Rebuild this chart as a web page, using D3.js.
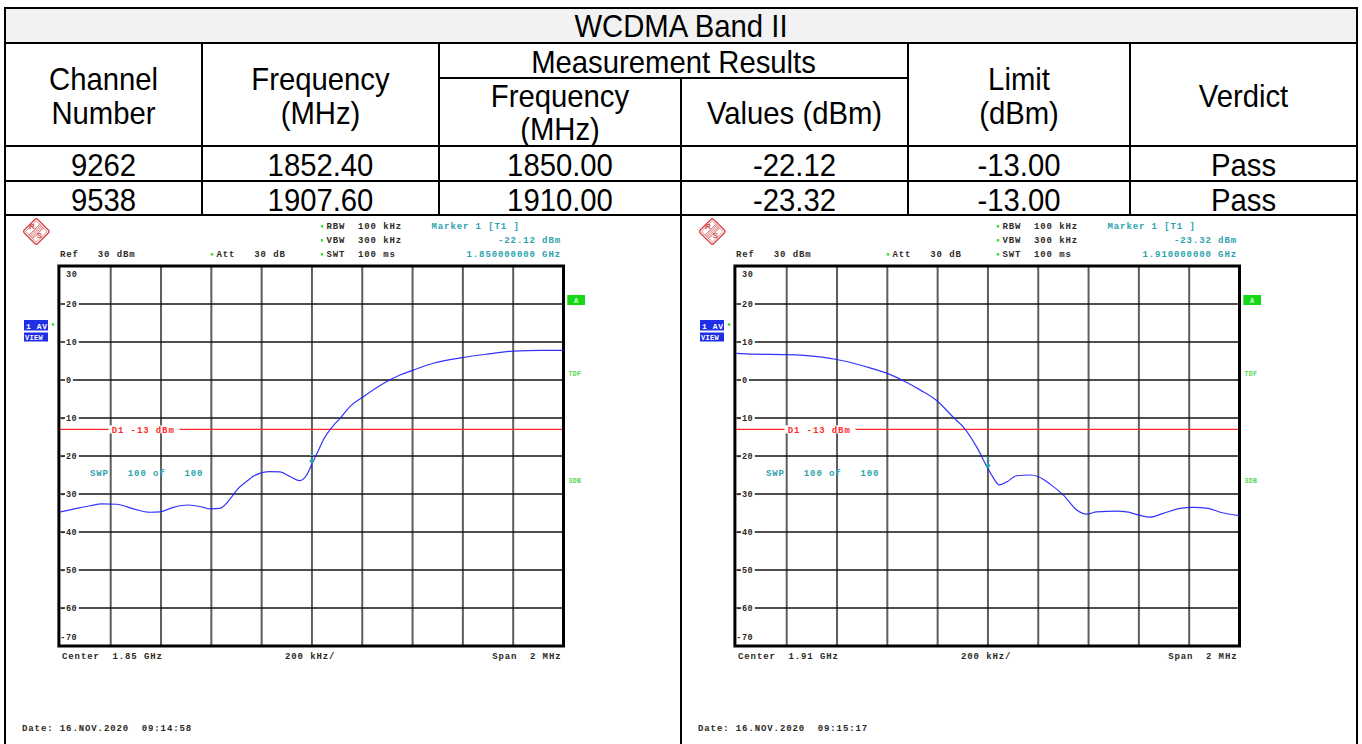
<!DOCTYPE html>
<html><head><meta charset="utf-8">
<script src="https://cdn.jsdelivr.net/npm/d3@7"></script>
<style>html,body{margin:0;padding:0;background:#fff;} svg{display:block}</style>
</head><body>
<svg id="c" width="1362" height="744"></svg>
<script>
// ---------- result table ----------
const bandTitle = "WCDMA Band II";
const channelNumbers = ["9262", "9538"];
const channelFreqMHz = ["1852.40", "1907.60"];
const markerFreqMHz = [1850.00, 1910.00];
const markerLevelDbm = [-22.12, -23.32];
const limitDbm = [-13.00, -13.00];
const verdicts = ["Pass", "Pass"];

// ---------- analyzer settings ----------
const centerGHz = [1.85, 1.91];
const sweepStamps = ["16.NOV.2020  09:14:58", "16.NOV.2020  09:15:17"];
const levelTicks = [30, 20, 10, 0, -10, -20, -30, -40, -50, -60, -70];
const freqGridKHz = [-1000, -800, -600, -400, -200, 0, 200, 400, 600, 800, 1000];
const displayLineDbm = -13;

// ---------- traces: offset from centre (kHz) and level (dBm) ----------
const lowEdgeOffsetKHz = [-1000, -949, -882, -836, -776, -710, -644, -604, -551, -492, -432, -405, -366,
  -313, -299, -246, -233, -167, -127, -87, -48, -21, 0, 32, 45, 85, 112, 151, 204, 284, 350, 403, 482,
  598, 695, 800, 907, 1000];
const lowEdgeLevelDbm = [-34.7, -34.0, -33.1, -32.6, -32.7, -33.9, -34.8, -34.7, -33.5, -32.9, -33.5, -33.9, -33.8,
  -30.2, -29.0, -26.0, -25.3, -24.1, -24.2, -25.4, -26.5, -25.0, -22.12, -17.6, -15.8, -12.0, -10.1, -7.0, -4.4, -0.9, 1.3, 2.6, 4.4,
  5.9, 6.8, 7.6, 7.8, 7.8];

const highEdgeOffsetKHz = [-1000, -933, -800, -668, -601, -535, -469, -402, -336, -270, -204, -138, -91, -45, 0,
  21, 45, 75, 114, 167, 199, 247, 300, 353, 393, 432, 512, 552, 597, 644, 697, 764, 816, 876, 923, 1000];
const highEdgeLevelDbm = [7.0, 6.8, 6.7, 6.1, 5.4, 4.4, 3.2, 1.8, -0.2, -2.6, -5.4, -9.8, -12.9, -17.6, -23.32,
  -25.7, -27.6, -26.8, -25.2, -25.0, -25.4, -27.4, -30.3, -34.2, -35.3, -34.7, -34.5, -34.7, -35.5, -36.1, -35.1, -33.8, -33.5, -33.8, -34.8, -35.7];

const svg = d3.select("#c");

// ---------- table ----------
const TABLE_FONT = "'Liberation Sans', Arial, sans-serif";
const FS = 32, SX = 0.915;
svg.append("rect").attr("x", 5).attr("y", 8).attr("width", 1352).attr("height", 35).attr("fill", "#f2f2f2");

function cellText(cx, baseline, str) {
  svg.append("text")
    .attr("transform", `translate(${cx},${baseline}) scale(${SX},1)`)
    .attr("text-anchor", "middle")
    .style("font-family", TABLE_FONT).style("font-size", FS + "px").attr("fill", "#000")
    .text(str);
}
const colX = [5, 202, 439, 681, 908, 1130, 1357];
const mid = i => (colX[i] + colX[i + 1]) / 2;

cellText(681, 37, bandTitle);
cellText(mid(0), 90, "Channel"); cellText(mid(0), 124, "Number");
cellText(mid(1), 90, "Frequency"); cellText(mid(1), 124, "(MHz)");
cellText((colX[2] + colX[4]) / 2, 73, "Measurement Results");
cellText(mid(2), 107, "Frequency"); cellText(mid(2), 140, "(MHz)");
cellText(mid(3), 124, "Values (dBm)");
cellText(mid(4), 90, "Limit"); cellText(mid(4), 124, "(dBm)");
cellText(mid(5), 107, "Verdict");

const rowBase = [176, 211];
channelNumbers.forEach((ch, i) => {
  cellText(mid(0), rowBase[i], ch);
  cellText(mid(1), rowBase[i], channelFreqMHz[i]);
  cellText(mid(2), rowBase[i], markerFreqMHz[i].toFixed(2));
  cellText(mid(3), rowBase[i], markerLevelDbm[i].toFixed(2));
  cellText(mid(4), rowBase[i], limitDbm[i].toFixed(2));
  cellText(mid(5), rowBase[i], verdicts[i]);
});

const rules = [
  [5, 8, 1357, 8], [5, 43, 1357, 43], [439, 78, 908, 78], [5, 146, 1357, 146],
  [5, 181, 1357, 181], [5, 215, 1357, 215],
  [5, 8, 5, 744], [1357, 8, 1357, 744], [202, 43, 202, 215], [439, 43, 439, 215],
  [681, 78, 681, 744], [908, 43, 908, 215], [1130, 43, 1130, 215]
];
svg.append("g").selectAll("line").data(rules).join("line")
  .attr("x1", d => d[0]).attr("y1", d => d[1]).attr("x2", d => d[2]).attr("y2", d => d[3])
  .attr("stroke", "#000").attr("stroke-width", 2).attr("stroke-linecap", "square");

// ---------- analyzer screens ----------
const MONO = "'Liberation Mono', 'Courier New', monospace";
const INK = "#2e2a26", TEAL = "#2ba3ad", RED = "#ff2b2b", GREEN = "#2fdc2f", TRACE = "#1e1eff";

function mono(g, x, y, str, color, anchor = "start", size = 9, spacing = 0.9) {
  return g.append("text").attr("x", x).attr("y", y).attr("text-anchor", anchor)
    .style("font-family", MONO).style("font-size", size + "px").style("font-weight", "bold")
    .style("letter-spacing", spacing + "px").style("white-space", "pre")
    .attr("fill", color).text(str);
}
function dot(g, x, y) {
  g.append("rect").attr("x", x - 1.2).attr("y", y - 1.2).attr("width", 2.4).attr("height", 2.4).attr("fill", GREEN);
}

function drawLogo(g, cx, cy) {
  const c = "#d44a4a";
  const lg = g.append("g").attr("transform", `translate(${cx},${cy}) rotate(45)`);
  lg.append("rect").attr("x", -9.5).attr("y", -9.5).attr("width", 19).attr("height", 19).attr("rx", 2)
    .attr("fill", "#fff").attr("stroke", c).attr("stroke-width", 1.4);
  lg.append("rect").attr("x", -7.6).attr("y", -7.6).attr("width", 15.2).attr("height", 15.2).attr("rx", 1)
    .attr("fill", "none").attr("stroke", c).attr("stroke-width", 0.6);
  lg.append("g").selectAll("line").data(d3.range(-7, 7.6, 1.25)).join("line")
    .attr("x1", -2.6).attr("x2", 2.6).attr("y1", d => d).attr("y2", d => d)
    .attr("stroke", c).attr("stroke-width", 0.6);
  lg.append("line").attr("x1", -2.6).attr("x2", -2.6).attr("y1", -7.6).attr("y2", 7.6).attr("stroke", c).attr("stroke-width", 0.6);
  lg.append("line").attr("x1", 2.6).attr("x2", 2.6).attr("y1", -7.6).attr("y2", 7.6).attr("stroke", c).attr("stroke-width", 0.6);
  g.append("text").attr("x", cx - 4.5).attr("y", cy - 3).attr("text-anchor", "middle")
    .style("font", "bold 8px 'Liberation Sans', Arial").attr("fill", c).text("R");
  g.append("text").attr("x", cx + 3).attr("y", cy + 6).attr("text-anchor", "middle")
    .style("font", "bold 8px 'Liberation Sans', Arial").attr("fill", c).text("S");
}

function drawScreen(dx, idx, offsets, levels) {
  const g = svg.append("g");
  const x = d3.scaleLinear().domain([-1000, 1000]).range([60.4 + dx, 563.5 + dx]);
  const y = d3.scaleLinear().domain([-70, 30]).range([646, 266]);

  drawLogo(g, 36.3 + dx, 231.5);

  // header annotations
  mono(g, 60 + dx, 257, "Ref   30 dBm", INK);
  dot(g, 212 + dx, 254.3); mono(g, 216.5 + dx, 257, "Att   30 dB", INK);
  dot(g, 322 + dx, 226.3); mono(g, 326.5 + dx, 229, "RBW  100 kHz", INK);
  dot(g, 322 + dx, 240.3); mono(g, 326.5 + dx, 243, "VBW  300 kHz", INK);
  dot(g, 322 + dx, 254.3); mono(g, 326.5 + dx, 257, "SWT  100 ms", INK);
  mono(g, 431.5 + dx, 229, "Marker 1 [T1 ]", TEAL);
  mono(g, 561 + dx, 243, markerLevelDbm[idx].toFixed(2) + " dBm", TEAL, "end");
  mono(g, 561 + dx, 257, (markerFreqMHz[idx] / 1000).toFixed(9) + " GHz", TEAL, "end");

  // trace indicator boxes
  g.append("rect").attr("x", 24 + dx).attr("y", 320).attr("width", 24).attr("height", 10.5).attr("fill", "#1f2fe6");
  mono(g, 26 + dx, 328.5, "1 AV", "#fff", "start", 8, 0.6);
  g.append("rect").attr("x", 24 + dx).attr("y", 332.5).attr("width", 24).attr("height", 9).attr("fill", "#1f2fe6");
  mono(g, 25 + dx, 340, "VIEW", "#fff", "start", 7, 0.3);
  dot(g, 53 + dx, 324.5);

  // side status
  g.append("rect").attr("x", 567.3 + dx).attr("y", 295).attr("width", 17.7).attr("height", 10).attr("fill", "#17d817");
  mono(g, 576 + dx, 303, "A", "#d8ffd8", "middle", 7, 0);
  mono(g, 568.5 + dx, 376, "TDF", "#4fd84f", "start", 6.5, 0.3);
  mono(g, 568.5 + dx, 483, "3DB", "#4fd84f", "start", 6.5, 0.3);

  // grid
  const inner = freqGridKHz.slice(1, -1);
  g.append("g").selectAll("line").data(inner).join("line")
    .attr("x1", d => x(d)).attr("x2", d => x(d)).attr("y1", y(30)).attr("y2", y(-70))
    .attr("stroke", "#5e5e5e").attr("stroke-width", 2);
  const innerLevels = levelTicks.slice(1, -1);
  g.append("g").selectAll("line").data(innerLevels).join("line")
    .attr("x1", x(-1000)).attr("x2", x(1000)).attr("y1", d => y(d)).attr("y2", d => y(d))
    .attr("stroke", "#151515").attr("stroke-width", 1.5);

  // level labels, masked over the grid lines
  levelTicks.forEach(v => {
    let cy = y(v);
    if (v === levelTicks[0]) cy += 8;
    if (v === levelTicks[levelTicks.length - 1]) cy -= 9.5;
    const digits = String(Math.abs(v));
    const w = digits.length * 5.9;
    g.append("rect").attr("x", 65 + dx).attr("y", cy - 4).attr("width", w + 2).attr("height", 8).attr("fill", "#fff");
    mono(g, (v < 0 ? 60.2 : 66.1) + dx, cy + 3.2, String(v), INK, "start", 8.5, 0.6);
  });

  // display line D1
  g.append("line").attr("x1", x(-1000)).attr("x2", x(1000)).attr("y1", y(displayLineDbm)).attr("y2", y(displayLineDbm))
    .attr("stroke", RED).attr("stroke-width", 1.3);
  g.append("rect").attr("x", 108.5 + dx).attr("y", y(displayLineDbm) - 4).attr("width", 71).attr("height", 8).attr("fill", "#fff");
  mono(g, 111.7 + dx, y(displayLineDbm) + 3.2, "D1 -13 dBm", RED);

  mono(g, 90 + dx, 475.5, "SWP   100 of   100", TEAL);

  // frame
  g.append("rect").attr("x", x(-1000) - 1.5).attr("y", y(30)).attr("width", x(1000) - x(-1000) + 1.5).attr("height", y(-70) - y(30))
    .attr("fill", "none").attr("stroke", "#000").attr("stroke-width", 3);

  // trace
  const pts = offsets.map((o, i) => [o, levels[i]]);
  g.append("path").datum(pts)
    .attr("d", d3.line().x(d => x(d[0])).y(d => y(d[1])).curve(d3.curveMonotoneX))
    .attr("fill", "none").attr("stroke", TRACE).attr("stroke-width", 1.2).attr("stroke-opacity", 0.9);

  // marker 1
  const mx = x(0), my = y(markerLevelDbm[idx]);
  g.append("path").attr("d", `M${mx},${my} L${mx - 2.6},${my - 3} L${mx},${my - 6} L${mx + 2.6},${my - 3} Z`).attr("fill", TEAL);
  mono(g, mx, my - 8, "1", TEAL, "middle", 7, 0);

  // footer
  mono(g, 62 + dx, 658.5, "Center  " + centerGHz[idx].toFixed(2) + " GHz", INK);
  mono(g, 285 + dx, 658.5, "200 kHz/", INK);
  mono(g, 561.5 + dx, 658.5, "Span  2 MHz", INK, "end");
  mono(g, 22 + dx, 731, "Date: " + sweepStamps[idx], INK);
}

drawScreen(0, 0, lowEdgeOffsetKHz, lowEdgeLevelDbm);
drawScreen(676, 1, highEdgeOffsetKHz, highEdgeLevelDbm);
</script>
</body></html>
